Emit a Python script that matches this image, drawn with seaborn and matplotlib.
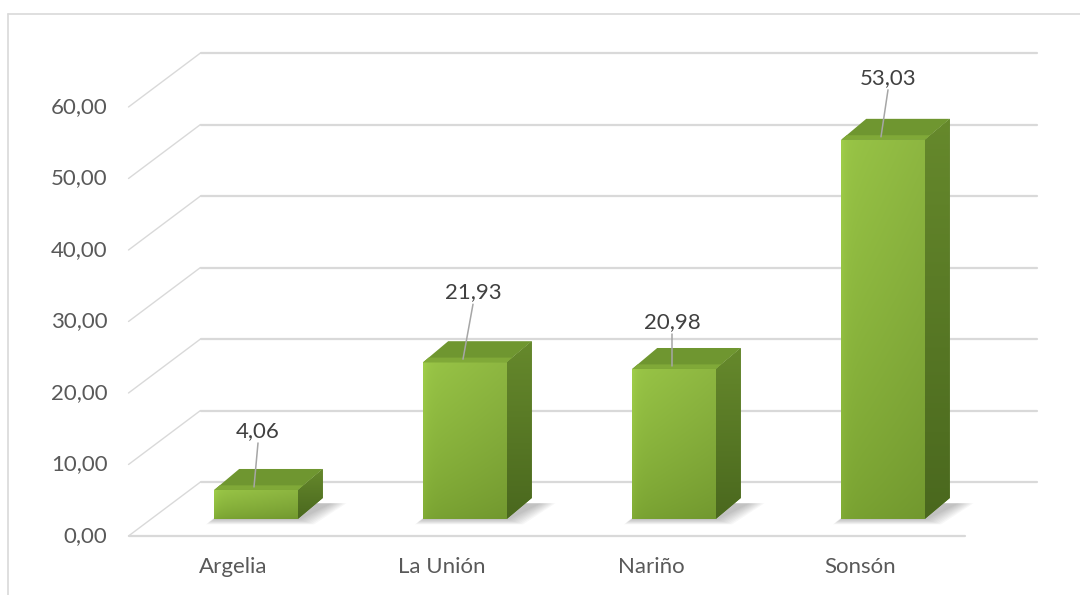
import numpy as np
import pandas as pd
import matplotlib
matplotlib.use("Agg")
import matplotlib.pyplot as plt
from matplotlib.patches import Polygon
from matplotlib.lines import Line2D
from matplotlib.colors import to_rgb
import seaborn as sns

# ---------------- data ----------------
categories = ["Argelia", "La Unión", "Nariño", "Sonsón"]
values = [4.06, 21.93, 20.98, 53.03]
value_labels = ["4,06", "21,93", "20,98", "53,03"]
y_ticks = [0, 10, 20, 30, 40, 50, 60]
y_tick_labels = ["0,00", "10,00", "20,00", "30,00", "40,00", "50,00", "60,00"]

# data-label placement (pixels): rise above bar top, horizontal shift
label_rise_px = [59, 70, 47, 62]
label_shift_px = [2, 8, -2, 5]

# ---------------- style ----------------
sns.set_theme(style="white")
plt.rcParams['font.family'] = ['Lato', 'DejaVu Sans']

W, H = 1080, 595
fig = plt.figure(figsize=(W / 100, H / 100), dpi=100)
fig.patch.set_facecolor("white")

# axes = plane of the bars' front faces
left_px, right_px, bottom_px, top_px = 151.5, 987.5, 519, 90
ax = fig.add_axes([left_px / W, (H - bottom_px) / H,
                   (right_px - left_px) / W, (bottom_px - top_px) / H])

df = pd.DataFrame({"cat": categories, "val": values})
sns.barplot(data=df, x="cat", y="val", ax=ax, width=0.4, color="#8cba3c",
            saturation=1, edgecolor="none", linewidth=0, zorder=5)
ax.set_xlim(-0.5, 3.5)
ax.set_ylim(0, 60)
ax.axis("off")

px_x = (right_px - left_px) / 4.0
px_y = (bottom_px - top_px) / 60.0


def off(dx_px, dy_up_px):
    return dx_px / px_x, dy_up_px / px_y


back = off(49, 37)      # bar plane -> back wall
front = off(-23, -17)   # bar plane -> front edge of floor
depth = off(25, 21)     # bar depth

grid_c = "#d9d9d9"
x_lo, x_hi = -0.5, 3.5

# back wall gridlines + left wall diagonals
for v in y_ticks:
    ax.add_line(Line2D([x_lo + back[0], x_hi + back[0]], [v + back[1], v + back[1]],
                       color=grid_c, lw=1.6, zorder=1, clip_on=False))
    ax.add_line(Line2D([x_lo + front[0], x_lo + back[0]], [v + front[1], v + back[1]],
                       color=grid_c, lw=1.0, zorder=1, clip_on=False))
# front floor edge
ax.add_line(Line2D([x_lo + front[0], x_hi + front[0]], [front[1], front[1]],
                   color=grid_c, lw=1.6, zorder=1, clip_on=False))

text_c = "#595959"
FS = 16
for v, lab in zip(y_ticks, y_tick_labels):
    ax.text(x_lo + front[0] - 21 / px_x, v + front[1], lab, ha="right", va="center",
            fontsize=FS, color=text_c, clip_on=False)

for i, c in enumerate(categories):
    ax.text(i + front[0], front[1] - 31 / px_y, c, ha="center", va="center",
            fontsize=FS, color=text_c, clip_on=False)


def grad_img(c_bottom, c_top, n=80):
    a, b = np.array(to_rgb(c_bottom)), np.array(to_rgb(c_top))
    t = np.linspace(1, 0, n)[:, None, None]
    return np.repeat(a + (b - a) * t, 2, axis=1)


patches = list(ax.patches)
for i, p in enumerate(patches):
    x0, w, h = p.get_x(), p.get_width(), p.get_height()
    dx, dy = depth
    # soft shadow on the floor
    for k in range(9, 0, -1):
        ex, ey = off(k * 1.8, k * 1.0)
        sh = Polygon([(x0 - ex * 0.5, -ey * 0.6), (x0 + w + ex, -ey * 0.6),
                      (x0 + w + dx * 1.3 + ex, dy * 0.75), (x0 + dx - ex * 0.5, dy * 0.75)],
                     closed=True, facecolor="#505050", alpha=0.045, edgecolor="none",
                     zorder=2, clip_on=False)
        ax.add_patch(sh)
    # front face gradient
    ny, nx = 80, 40
    yy = np.linspace(1, 0, ny)[:, None]
    xx = np.linspace(0, 1, nx)[None, :]
    bot, topc = np.array(to_rgb("#7aa332")), np.array(to_rgb("#98c446"))
    img = bot[None, None, :] + (topc - bot)[None, None, :] * (yy[..., None] ** 0.8)
    shade = 1 - 0.07 * xx[..., None] + 0.05 * np.exp(-xx[..., None] / 0.05)
    img = np.clip(img * shade, 0, 1)
    im = ax.imshow(img, extent=[x0, x0 + w, 0, h], aspect="auto", zorder=5.1,
                   interpolation="bilinear", origin="upper")
    im.set_clip_path(p)
    # side face (gradient clipped to a parallelogram)
    side = Polygon([(x0 + w, 0), (x0 + w + dx, dy), (x0 + w + dx, h + dy), (x0 + w, h)],
                   closed=True, facecolor="#587a25", edgecolor="none", zorder=5, clip_on=False)
    ax.add_patch(side)
    ims = ax.imshow(grad_img("#4a681e", "#66892c"), extent=[x0 + w, x0 + w + dx, 0, h + dy],
                    aspect="auto", zorder=5.05, interpolation="bilinear", origin="upper")
    ims.set_clip_path(side)
    ims.set_clip_on(True)
    # top face
    topf = Polygon([(x0, h), (x0 + w, h), (x0 + w + dx, h + dy), (x0 + dx, h + dy)],
                   closed=True, facecolor="#6f9630", edgecolor="none", zorder=5.2, clip_on=False)
    ax.add_patch(topf)
    edge = Polygon([(x0, h), (x0 + w, h), (x0 + w + dx * 0.22, h + dy * 0.22),
                    (x0 + dx * 0.22, h + dy * 0.22)],
                   closed=True, facecolor="#80a938", edgecolor="none", zorder=5.3, clip_on=False)
    ax.add_patch(edge)

    # data labels with leader lines
    cx = x0 + w / 2
    lx = cx + label_shift_px[i] / px_x
    ly = h + label_rise_px[i] / px_y
    ax.add_line(Line2D([cx - 2 / px_x, lx], [h + 3 / px_y, ly - 12 / px_y],
                       color="#a6a6a6", lw=1.1, zorder=6, clip_on=False))
    ax.text(lx, ly, value_labels[i], ha="center", va="center", fontsize=FS,
            color="#404040", zorder=7, clip_on=False)

ax.set_xlim(-0.5, 3.5)
ax.set_ylim(0, 60)

# chart area border (top and left visible)
fig.add_artist(Line2D([8 / W, 1], [1 - 14 / H, 1 - 14 / H], color=grid_c, lw=1.2,
                      transform=fig.transFigure))
fig.add_artist(Line2D([8 / W, 8 / W], [0, 1 - 14 / H], color=grid_c, lw=1.2,
                      transform=fig.transFigure))

fig.savefig("out.png", dpi=100, facecolor="white")
